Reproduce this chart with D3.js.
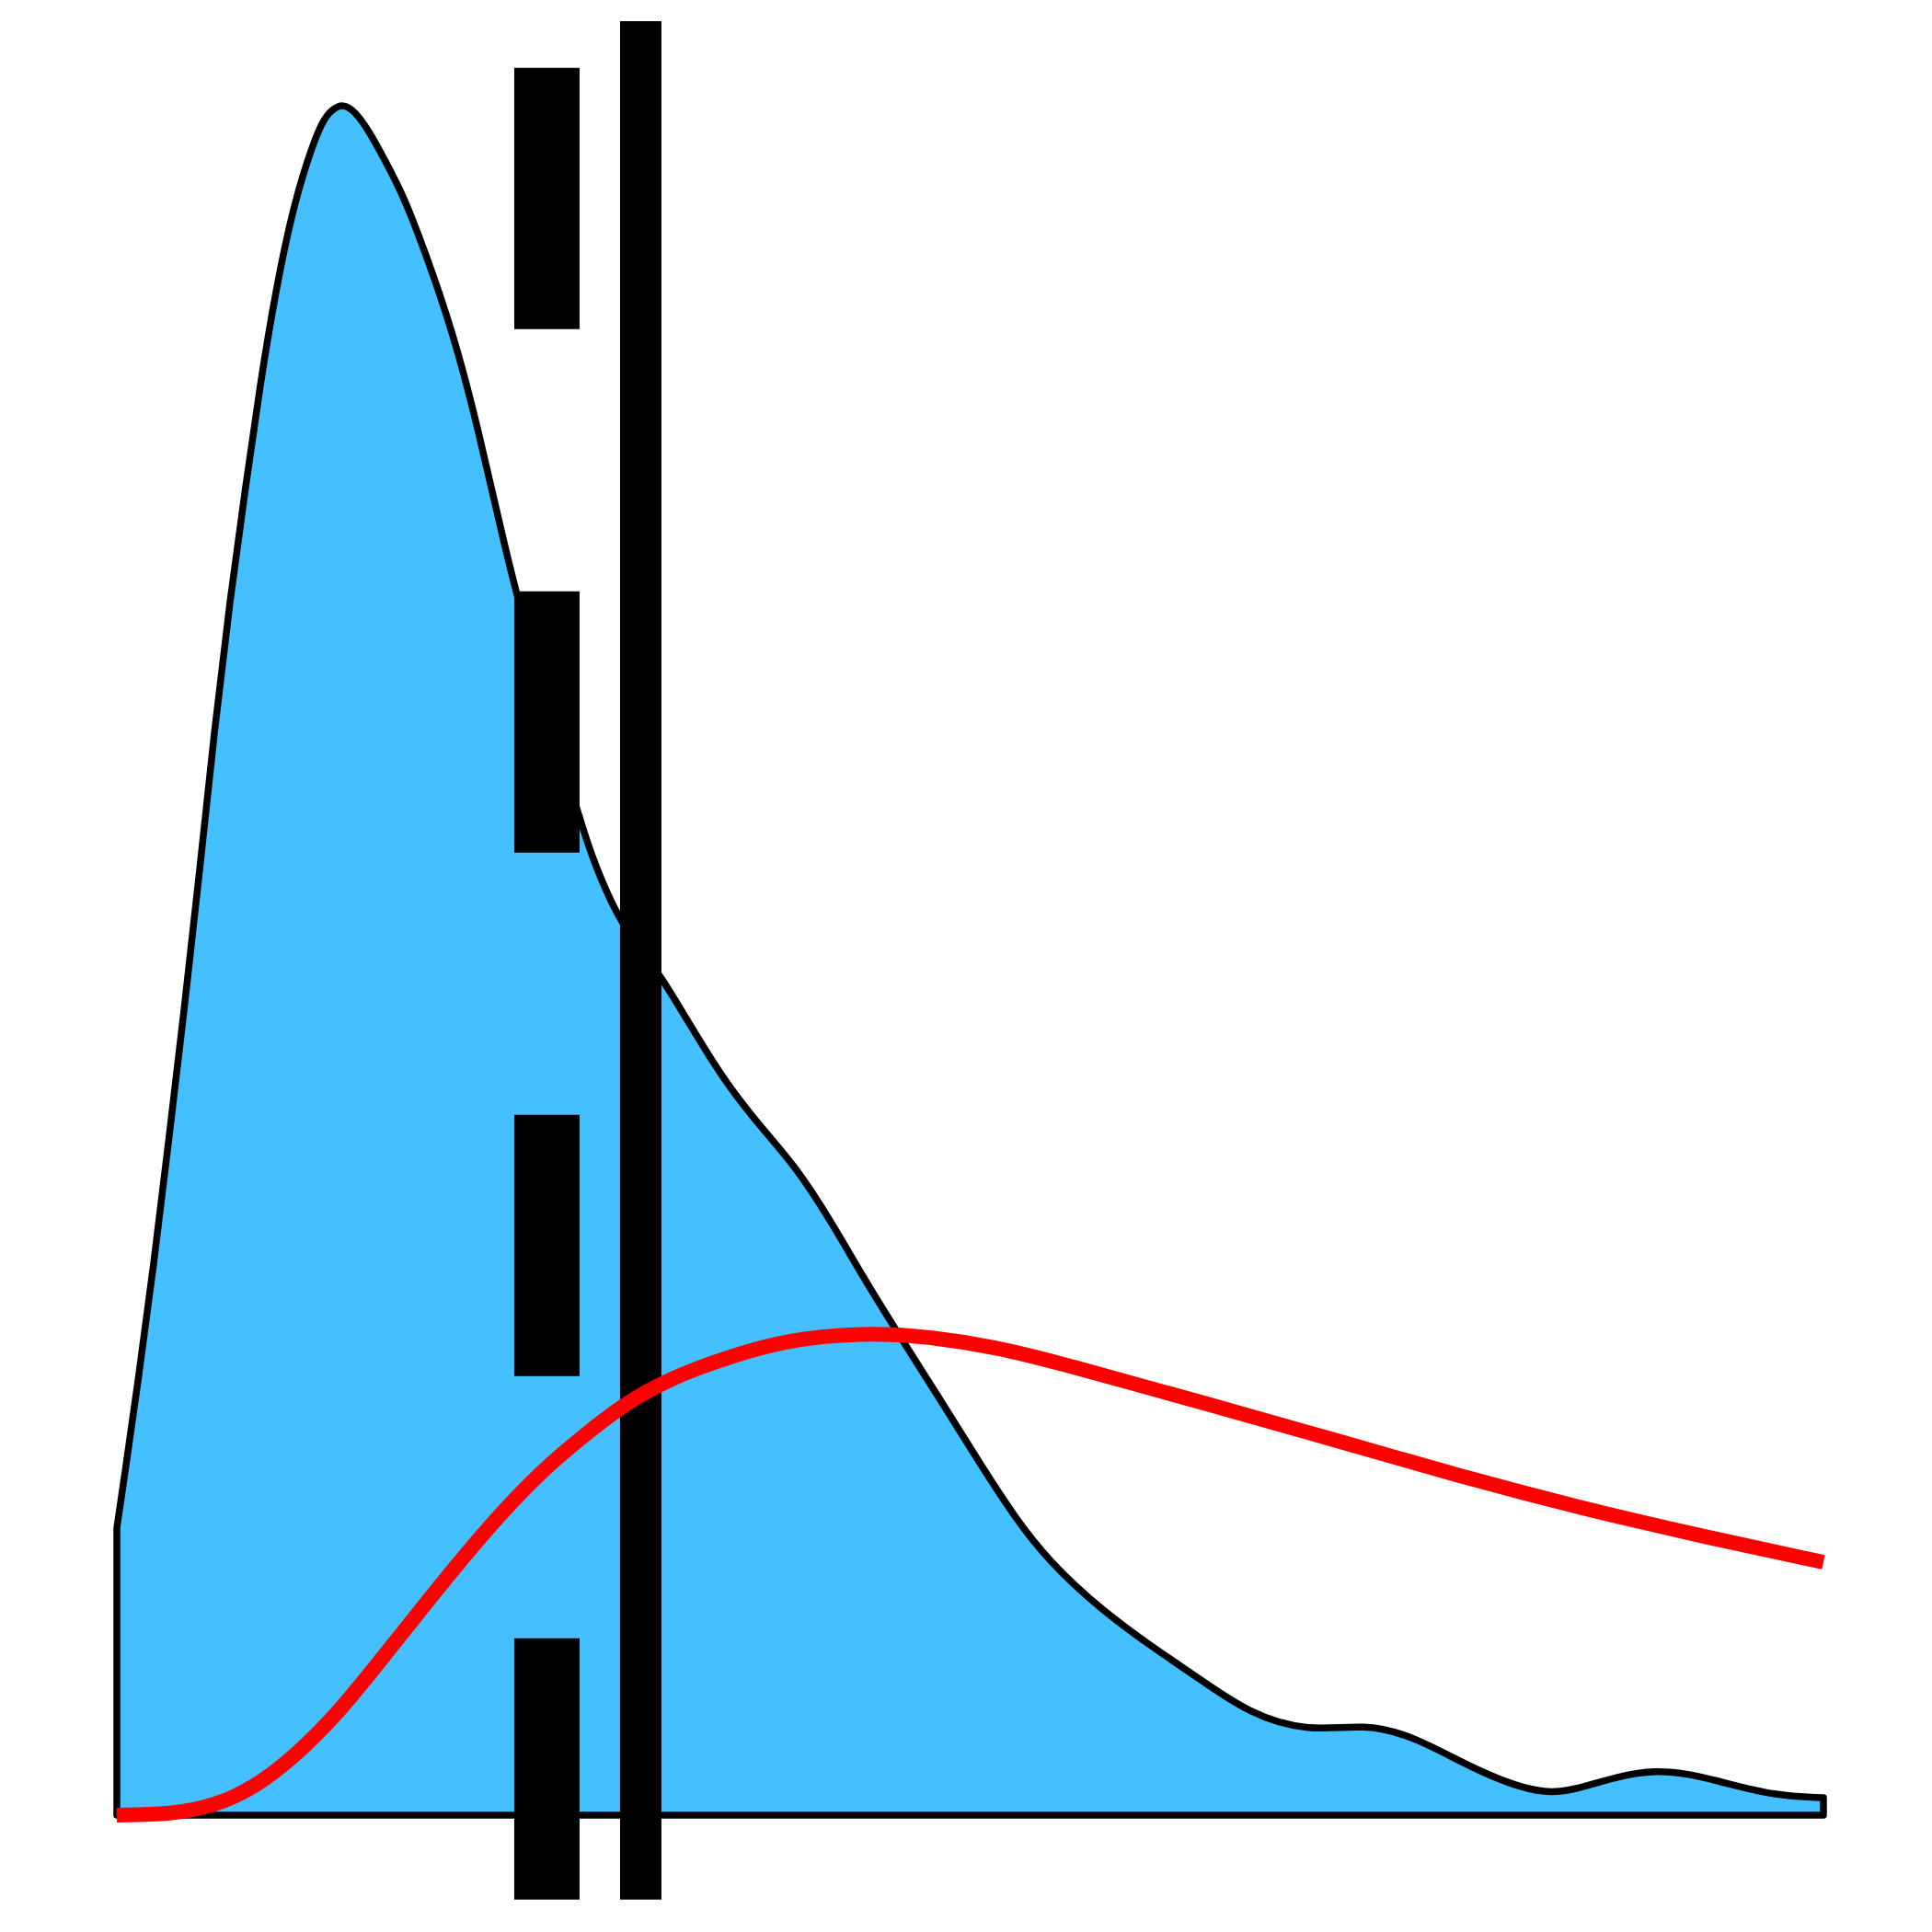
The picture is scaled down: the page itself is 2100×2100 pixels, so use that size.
<!DOCTYPE html>
<html><head><meta charset="utf-8">
<script src="https://cdn.jsdelivr.net/npm/d3@7"></script>
<style>html,body{margin:0;padding:0;background:#fff;}svg{display:block;}</style>
</head><body>
<script>
// Density (KDE) curve: x values and density values
const densX = [0, 0.485, 1.240, 2.156, 3.019, 3.935, 4.852, 5.714, 6.631, 7.547, 8.410, 9.326, 10.243, 11.105, 12.022, 12.615, 13.245, 13.962, 14.717, 15.418, 16.496, 17.251, 18.652, 19.946, 21.186, 22.264, 23.288, 25.229, 27.116, 28.032, 29.434, 30.674, 31.914, 33.585, 35.633, 37.682, 39.784, 41.833, 43.881, 45.930, 48.410, 50.512, 52.561, 54.609, 57.682, 60.809, 63.235, 66.36, 69.81, 73.15, 76.01, 79.89, 83.77, 86.31, 90.19, 94.07, 97.14, 100];
const densY = [0.1600, 0.1913, 0.2415, 0.3062, 0.3744, 0.4477, 0.5262, 0.6046, 0.6779, 0.7405, 0.7985, 0.8508, 0.8923, 0.9210, 0.9446, 0.9508, 0.9540, 0.9497, 0.9395, 0.9277, 0.9082, 0.8918, 0.8559, 0.8179, 0.7718, 0.7267, 0.6846, 0.6185, 0.5549, 0.5290, 0.4990, 0.4826, 0.4672, 0.4405, 0.4087, 0.3841, 0.3615, 0.3313, 0.2974, 0.2662, 0.2292, 0.1969, 0.1667, 0.1415, 0.1144, 0.0928, 0.0774, 0.0564, 0.0465, 0.0510, 0.0441, 0.0236, 0.0100, 0.0169, 0.0275, 0.0185, 0.0108, 0.0097];
// Fitted curve (red)
const fitX = [0, 3.23, 5.66, 8.03, 10.46, 12.88, 15.26, 17.68, 20.05, 22.48, 24.91, 27.28, 29.70, 32.13, 35.04, 39.14, 43.67, 47.39, 51.54, 55.63, 59.78, 63.23, 71.43, 78.65, 85.88, 93.10, 100];
const fitY = [0, 0.0005, 0.005, 0.015, 0.033, 0.056, 0.084, 0.113, 0.141, 0.168, 0.192, 0.211, 0.229, 0.242, 0.253, 0.265, 0.269, 0.267, 0.261, 0.251, 0.240, 0.231, 0.209, 0.189, 0.171, 0.155, 0.141];
// Reference lines
const medianX = 25.2;
const meanX = 30.7;
const refLineRange = [-0.047, 1.0];

const W = 2100, H = 2100;
const svg = d3.select("body").append("svg").attr("width", W).attr("height", H);
const x = d3.scaleLinear().domain([0, 100]).range([127, 1982]);
const y = d3.scaleLinear().domain([0, 1]).range([1973, 23]);

const dens = densX.map((v, i) => [v, densY[i]]);
const fit = fitX.map((v, i) => [v, fitY[i]]);

const area = d3.area().x(d => x(d[0])).y0(y(0)).y1(d => y(d[1])).curve(d3.curveBasis);
svg.append("path").datum(dens).attr("d", area)
  .attr("fill", "#44bfff").attr("stroke", "#000").attr("stroke-width", 7.5)
  .attr("stroke-linejoin", "round");

// median (dashed)
svg.append("line")
  .attr("x1", x(medianX)).attr("x2", x(medianX))
  .attr("y1", y(refLineRange[0])).attr("y2", y(refLineRange[1]))
  .attr("stroke", "#000").attr("stroke-width", 71)
  .attr("stroke-dasharray", "284,285");
// mean (solid)
svg.append("line")
  .attr("x1", x(meanX)).attr("x2", x(meanX))
  .attr("y1", y(refLineRange[0])).attr("y2", y(refLineRange[1]))
  .attr("stroke", "#000").attr("stroke-width", 45);

const line = d3.line().x(d => x(d[0])).y(d => y(d[1])).curve(d3.curveBasis);
svg.append("path").datum(fit).attr("d", line)
  .attr("fill", "none").attr("stroke", "#ff0000").attr("stroke-width", 16);
</script>
</body></html>
